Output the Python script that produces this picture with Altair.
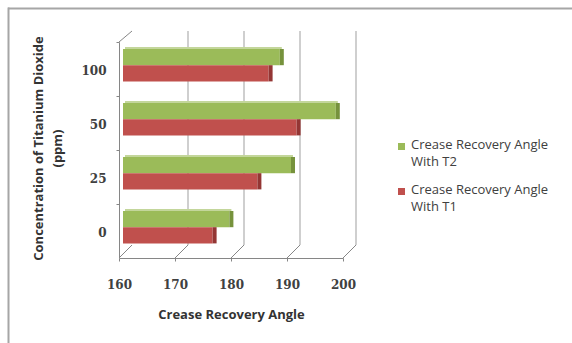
import altair as alt
import pandas as pd

# ---- data ----
categories = ["100", "50", "25", "0"]
t2_values = [188, 198, 190, 179]
t1_values = [186, 191, 184, 176]
series_keys = ["T2", "T1"]
series_labels = ["Crease Recovery Angle\nWith T2", "Crease Recovery Angle\nWith T1"]
x_ticks = [160, 170, 180, 190, 200]
back_grid = [170, 180, 190, 200]

front_colors = ["#9bbb59", "#c0504d"]
side_colors = ["#76923c", "#943634"]
top_color = "#c3d69b"
edge_color = "#868686"
grid_color = "#bfbfbf"
text_color = "#404040"

x_title = "Crease Recovery Angle"
y_title = ["Concentration of Titanium Dioxide", "(ppm)"]

rows = []
for c, a, b in zip(categories, t2_values, t1_values):
    rows.append({"conc": c, "series": "T2", "value": a})
    rows.append({"conc": c, "series": "T1", "value": b})
df = pd.DataFrame(rows)
df_top = df[df["series"] == "T2"]
ticks_df = pd.DataFrame({"value": x_ticks})
grid_df = pd.DataFrame({"value": back_grid})

W, H = 224, 216

x_scale = alt.Scale(domain=[160, 200], nice=False, zero=False)
y_scale = alt.Scale(domain=categories, paddingInner=0.4, paddingOuter=0.2, align=0.324)
color_scale = alt.Scale(domain=series_keys, range=front_colors)

x_axis = alt.Axis(
    values=x_ticks, format="d", grid=False,
    domain=True, domainColor=edge_color, ticks=True, tickSize=3, tickColor=edge_color,
    labelPadding=18, labelFlush=False, labelFont="DejaVu Serif", labelFontWeight="bold",
    labelFontSize=12, labelColor=text_color,
    titleFont="Open Sans", titleFontWeight="bold", titleFontSize=13, titleColor="#333333",
    titleX=112, titleY=56, titleBaseline="middle",
)
y_axis = alt.Axis(
    grid=False, domain=True, domainColor=edge_color, ticks=True, tickSize=3,
    tickColor=edge_color, tickOffset=-23.2, labelOffset=29, labelPadding=10,
    labelFont="DejaVu Serif", labelFontWeight="bold", labelFontSize=12, labelColor=text_color,
    titleFont="Open Sans", titleFontWeight="bold", titleFontSize=13, titleColor="#333333",
    titleAngle=270, titleAlign="center", titleBaseline="bottom", titleX=-74, titleY=106,
    titleLineHeight=19,
)

X = lambda: alt.X("value:Q", scale=x_scale, axis=x_axis, title=x_title)
Y = lambda: alt.Y("conc:N", sort=categories, scale=y_scale, axis=y_axis, title=y_title)

# back wall gridlines
back = alt.Chart(grid_df).mark_rule(color=grid_color, strokeWidth=1.5, xOffset=13).encode(
    x=X(), y=alt.value(-11), y2=alt.value(H - 13),
)
# floor diagonals
floor = alt.Chart(ticks_df).mark_rule(color=edge_color, strokeWidth=1, x2Offset=13).encode(
    x=X(), x2="value:Q", y=alt.value(H), y2=alt.value(H - 13),
)
# left wall top edge
wall_top = alt.Chart(pd.DataFrame({"value": [160]})).mark_rule(color=edge_color, strokeWidth=1, x2Offset=13).encode(
    x=X(), x2="value:Q", y=alt.value(0), y2=alt.value(-11),
)

front = alt.Chart(df).mark_bar(xOffset=4, x2Offset=4).encode(
    x=X(), x2=alt.datum(160), y=Y(),
    yOffset=alt.YOffset("series:N", sort=series_keys, scale=alt.Scale(domain=series_keys)),
    color=alt.Color("series:N", scale=color_scale, legend=None),
)
side = alt.Chart(df).mark_bar(xOffset=4, x2Offset=8).encode(
    x=X(), x2="value:Q", y=Y(),
    yOffset=alt.YOffset("series:N", sort=series_keys, scale=alt.Scale(domain=series_keys)),
    fill=alt.Fill("series:N", scale=alt.Scale(domain=series_keys, range=side_colors), legend=None),
)
top = alt.Chart(df_top).mark_bar(size=2, yOffset=-17.2, xOffset=6, x2Offset=6, color=top_color).encode(
    x=X(), x2=alt.datum(160), y=Y(),
)

# legend (manual, two-line labels)
legend_layers = []
for i, (k, lab) in enumerate(zip(series_keys, series_labels)):
    ldf = pd.DataFrame({"series": [k], "label": [lab]})
    sq = alt.Chart(ldf).mark_square(size=49, opacity=1).encode(
        x=alt.value(282.5), y=alt.value(104.5 + 45 * i),
        color=alt.Color("series:N", scale=color_scale, legend=None),
    )
    tx = alt.Chart(ldf).mark_text(align="left", baseline="top", lineBreak="\n", lineHeight=17,
                                  font="Open Sans", fontSize=13, color=text_color).encode(
        x=alt.value(292), y=alt.value(97 + 45 * i), text="label:N",
    )
    legend_layers += [sq, tx]

# outer frame (top and left edges)
frame_top = alt.Chart(pd.DataFrame({"a": [0]})).mark_rule(color="#a6a6a6", strokeWidth=2).encode(
    x=alt.value(-111), x2=alt.value(453), y=alt.value(-33.5))
frame_left = alt.Chart(pd.DataFrame({"a": [0]})).mark_rule(color="#a6a6a6", strokeWidth=2).encode(
    x=alt.value(-110.5), y=alt.value(-34.5), y2=alt.value(301))

chart = alt.layer(
    back, floor, wall_top, front, side, top, *legend_layers, frame_top, frame_left
).properties(
    width=W, height=H,
    autosize=alt.AutoSizeParams(type="none"),
    padding={"left": 119, "top": 42, "right": 229, "bottom": 85},
    background="white",
).configure_view(strokeWidth=0)

chart.save("out.html", embed_options={"renderer": "svg", "actions": False})
